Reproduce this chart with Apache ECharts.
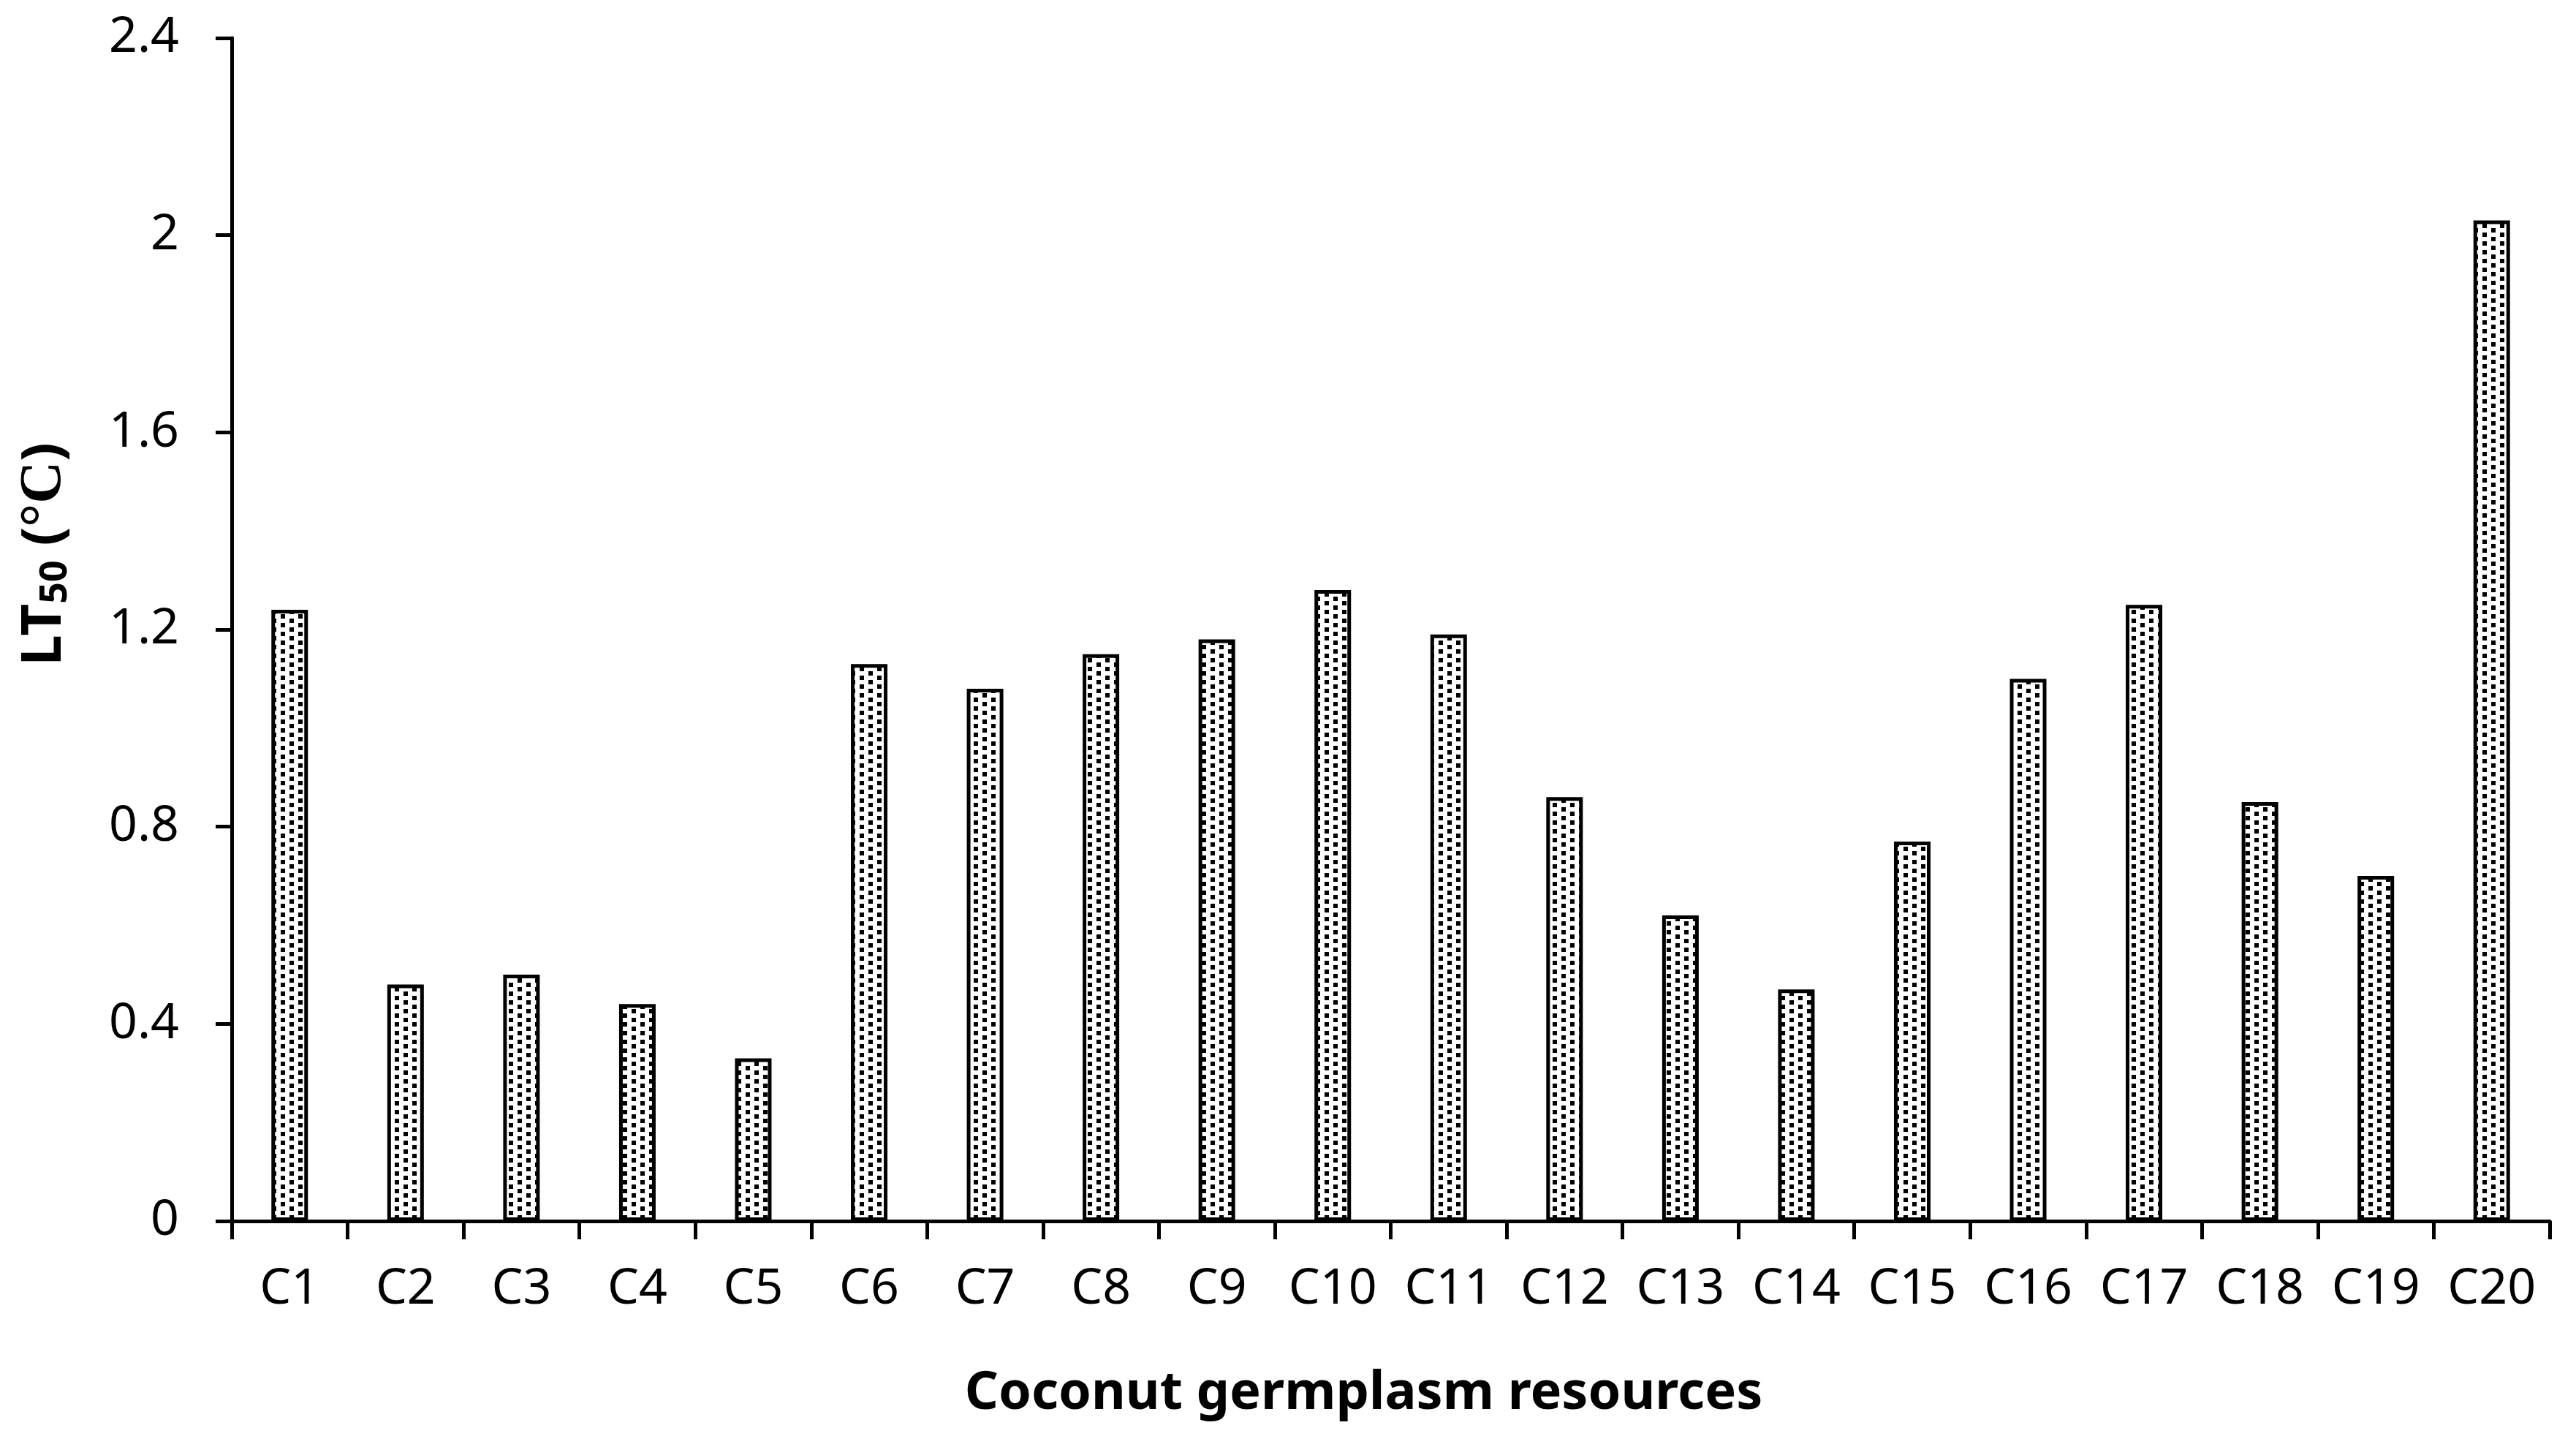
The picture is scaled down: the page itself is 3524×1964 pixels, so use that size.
<!DOCTYPE html>
<html>
<head>
<meta charset="utf-8">
<script src="https://cdn.jsdelivr.net/npm/echarts@6/dist/echarts.min.js"></script>
<style>html,body{margin:0;padding:0;background:#fff}#c{width:3524px;height:1964px}</style>
</head>
<body>
<div id="c"></div>
<script>
const categories = ['C1','C2','C3','C4','C5','C6','C7','C8','C9','C10','C11','C12','C13','C14','C15','C16','C17','C18','C19','C20'];
const lt50Values = [1.24,0.48,0.50,0.44,0.33,1.13,1.08,1.15,1.18,1.28,1.19,0.86,0.62,0.47,0.77,1.10,1.25,0.85,0.70,2.03];
const yTicks = [0, 0.4, 0.8, 1.2, 1.6, 2, 2.4];

function makePattern() {
  const cv = document.createElement('canvas');
  cv.width = 24; cv.height = 12;
  const g = cv.getContext('2d');
  g.fillStyle = '#fff'; g.fillRect(0,0,24,12);
  g.fillStyle = '#000';
  g.fillRect(0,0,6,6);
  g.fillRect(12,6,6,6);
  return cv;
}

const chart = echarts.init(document.getElementById('c'), null, {renderer:'canvas'});
const fam = '"Noto Sans", "Open Sans", sans-serif';
chart.setOption({
  animation: false,
  backgroundColor: '#fff',
  grid: {left: 317, right: 36, top: 52, bottom: 294, containLabel: false},
  xAxis: {
    type: 'category',
    data: categories,
    boundaryGap: true,
    axisLine: {show: true, lineStyle: {color: '#000', width: 5}},
    axisTick: {show: true, length: 25, lineStyle: {color: '#000', width: 5}, alignWithLabel: false},
    axisLabel: {color: '#000', fontFamily: fam, fontSize: 68, margin: 60},
    splitLine: {show: false},
    name: 'Coconut germplasm resources',
    nameLocation: 'middle',
    nameGap: 200,
    nameTextStyle: {color: '#000', fontFamily: fam, fontWeight: 'bold', fontSize: 72, padding: [0, 74, 0, 0]}
  },
  yAxis: {
    type: 'value',
    min: yTicks[0],
    max: yTicks[yTicks.length-1],
    interval: 0.4,
    axisLine: {show: true, lineStyle: {color: '#000', width: 5}},
    axisTick: {show: true, length: 22, lineStyle: {color: '#000', width: 5}},
    axisLabel: {color: '#000', fontFamily: fam, fontSize: 68, margin: 72,
      formatter: v => { const t = yTicks.find(x => Math.abs(x - v) < 1e-9); return t === undefined ? '' : String(t); }},
    splitLine: {show: false},
    name: '{b|LT}{s|50}{b| (}{c|°C}{b|)}',
    nameLocation: 'middle',
    nameRotate: 90,
    nameGap: 215,
    nameTextStyle: {
      color: '#000', padding: [0, 0, 0, 206],
      rich: {
        b: {fontFamily: fam, fontWeight: 'bold', fontSize: 76, color: '#000'},
        s: {fontFamily: fam, fontWeight: 'bold', fontSize: 52, color: '#000', verticalAlign: 'bottom', padding: [30, 0, 0, 0]},
        c: {fontFamily: '"Liberation Serif", serif', fontWeight: 'bold', fontSize: 80, color: '#000'}
      }
    }
  },
  series: [{
    type: 'bar',
    data: lt50Values,
    barWidth: 50,
    itemStyle: {
      color: {image: makePattern(), repeat: 'repeat'},
      borderColor: '#000',
      borderWidth: 5
    }
  }]
});
</script>
</body>
</html>
